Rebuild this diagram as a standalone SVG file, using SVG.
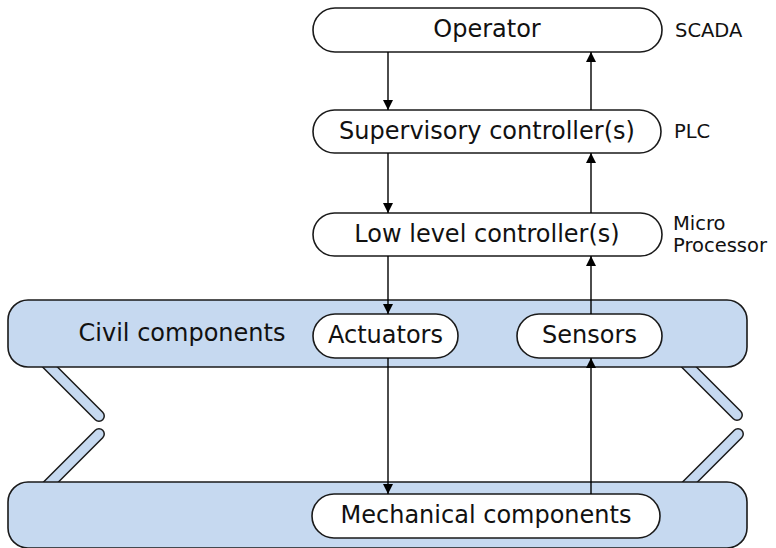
<svg xmlns="http://www.w3.org/2000/svg" width="776" height="548" viewBox="0 0 776 548">
  <defs>
    <marker id="arrow" viewBox="0 0 10 10" refX="10" refY="5" markerWidth="10" markerHeight="10" markerUnits="userSpaceOnUse" orient="auto">
      <path d="M0,0 L10,5 L0,10 z" fill="#000"/>
    </marker>
    <style>
      .node { fill: #fff; stroke: #1a1a1a; stroke-width: 1.6; }
      .layer { fill: #c6d9f0; stroke: #1a1a1a; stroke-width: 1.6; }
      .label { font-family: "DejaVu Sans", Verdana, sans-serif; font-size: 24px; fill: #111; text-anchor: middle; }
      .side { font-family: "DejaVu Sans", Verdana, sans-serif; font-size: 19.5px; fill: #111; }
      .link { stroke: #000; stroke-width: 1.4; fill: none; marker-end: url(#arrow); }
      .bar-out { stroke: #1a1a1a; stroke-width: 12; stroke-linecap: round; }
      .bar-in { stroke: #c6d9f0; stroke-width: 9; stroke-linecap: round; }
    </style>
  </defs>

  <!-- flexible links between the two physical layers -->
  <g id="links-physical">
    <line class="bar-out" x1="40" y1="357" x2="99" y2="416"/>
    <line class="bar-in" x1="40" y1="357" x2="99" y2="416"/>
    <line class="bar-out" x1="99" y1="434" x2="40" y2="493"/>
    <line class="bar-in" x1="99" y1="434" x2="40" y2="493"/>
    <line class="bar-out" x1="679" y1="357" x2="737" y2="415"/>
    <line class="bar-in" x1="679" y1="357" x2="737" y2="415"/>
    <line class="bar-out" x1="738" y1="434" x2="680" y2="492"/>
    <line class="bar-in" x1="738" y1="434" x2="680" y2="492"/>
  </g>

  <g id="civil">
    <rect class="layer" x="8" y="300" width="739" height="67" rx="20"/>
    <text class="label" x="182" y="341">Civil components</text>
  </g>

  <g id="mechanical-layer">
    <rect class="layer" x="8" y="482" width="739" height="66" rx="20"/>
  </g>

  <g id="operator">
    <rect class="node" x="313" y="8" width="349" height="44" rx="22"/>
    <text class="label" x="487" y="37">Operator</text>
    <text class="side" x="675" y="37">SCADA</text>
  </g>

  <g id="supervisory">
    <rect class="node" x="313" y="110" width="348" height="43" rx="21.5"/>
    <text class="label" x="487" y="139">Supervisory controller(s)</text>
    <text class="side" x="674" y="138">PLC</text>
  </g>

  <g id="low-level">
    <rect class="node" x="313" y="213" width="349" height="43" rx="21.5"/>
    <text class="label" x="487" y="242">Low level controller(s)</text>
    <text class="side" x="673" y="230">Micro</text>
    <text class="side" x="673" y="252">Processor</text>
  </g>

  <g id="actuators">
    <rect class="node" x="313" y="314" width="145" height="44" rx="22"/>
    <text class="label" x="385.5" y="343">Actuators</text>
  </g>

  <g id="sensors">
    <rect class="node" x="517" y="314" width="145" height="44" rx="22"/>
    <text class="label" x="589.5" y="343">Sensors</text>
  </g>

  <g id="mechanical">
    <rect class="node" x="312" y="494" width="348" height="44" rx="22"/>
    <text class="label" x="486" y="523">Mechanical components</text>
  </g>

  <g id="connectors">
    <line class="link" x1="388" y1="52" x2="388" y2="110"/>
    <line class="link" x1="591" y1="110" x2="591" y2="52"/>
    <line class="link" x1="388" y1="153" x2="388" y2="213"/>
    <line class="link" x1="591" y1="213" x2="591" y2="153"/>
    <line class="link" x1="388" y1="256" x2="388" y2="314"/>
    <line class="link" x1="591" y1="314" x2="591" y2="256"/>
    <line class="link" x1="388" y1="358" x2="388" y2="494"/>
    <line class="link" x1="591" y1="494" x2="591" y2="358"/>
  </g>
</svg>
